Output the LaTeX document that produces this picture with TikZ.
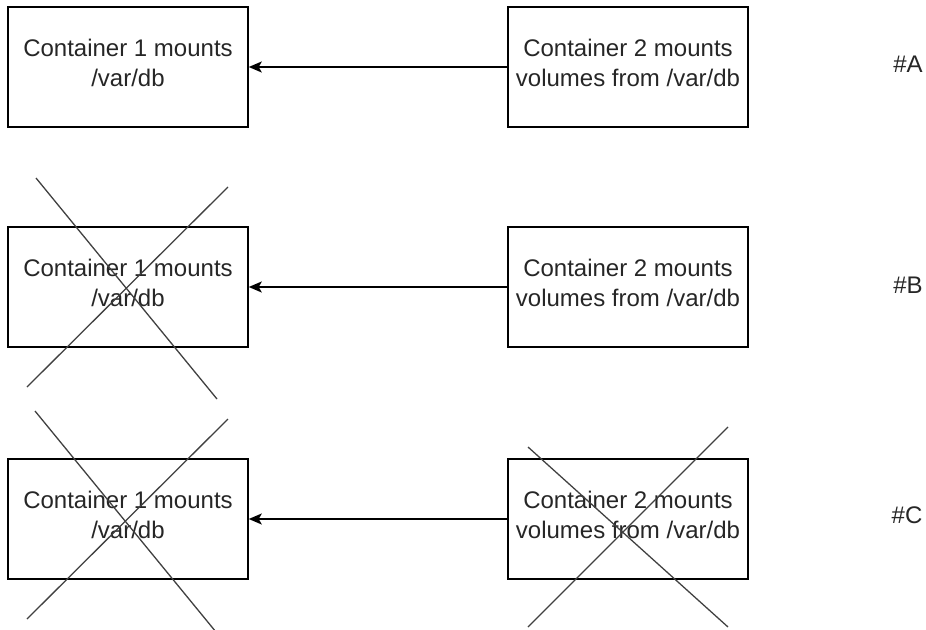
\documentclass[tikz,border=0pt]{standalone}
\usepackage{fontspec}
\setmainfont{Liberation Sans}
\usetikzlibrary{arrows.meta}
\begin{document}
\begin{tikzpicture}[x=1pt,y=-1pt,
  box/.style={draw=black, line width=1.5pt, minimum width=240pt, minimum height=120pt, inner sep=0pt},
  txt/.style={align=center, inner sep=0pt, font=\fontsize{24}{30}\selectfont, text=black!85},
  tag/.style={inner sep=0pt, font=\fontsize{24}{30}\selectfont, text=black!85},
  arr/.style={line width=1.5pt, -{Stealth[length=13pt,width=11pt,inset=3pt]}},
  crossline/.style={line width=1.3pt, draw=black!75}]
\useasboundingbox (0,0) rectangle (926,629);
% Row A
\node[box] (a1) at (128,67) {};
\node[box] (a2) at (628,67) {};
\node[txt] (a1t) at ([yshift=4pt]a1.center) {Container 1 mounts\\/var/db};
\node[txt] (a2t) at ([yshift=4pt]a2.center) {Container 2 mounts\\volumes from /var/db};
\draw[arr] (a2) -- (a1);
\node[tag] (ta) at (908,64) {\#A};
% Row B
\node[box] (b1) at (128,287) {};
\node[box] (b2) at (628,287) {};
\node[txt] (b1t) at ([yshift=4pt]b1.center) {Container 1 mounts\\/var/db};
\node[txt] (b2t) at ([yshift=4pt]b2.center) {Container 2 mounts\\volumes from /var/db};
\draw[arr] (b2) -- (b1);
\node[tag] (tb) at (908,285) {\#B};
\draw[crossline] (36,178) -- (217,399);
\draw[crossline] (228,187) -- (27,387);
% Row C
\node[box] (c1) at (128,519) {};
\node[box] (c2) at (628,519) {};
\node[txt] (c1t) at ([yshift=4pt]c1.center) {Container 1 mounts\\/var/db};
\node[txt] (c2t) at ([yshift=4pt]c2.center) {Container 2 mounts\\volumes from /var/db};
\draw[arr] (c2) -- (c1);
\node[tag] (tc) at (907,515) {\#C};
\draw[crossline] (35,411) -- (216,632);
\draw[crossline] (228,419) -- (27,619);
\draw[crossline] (528,447) -- (728,627);
\draw[crossline] (728,427) -- (528,627);
\end{tikzpicture}
\end{document}
